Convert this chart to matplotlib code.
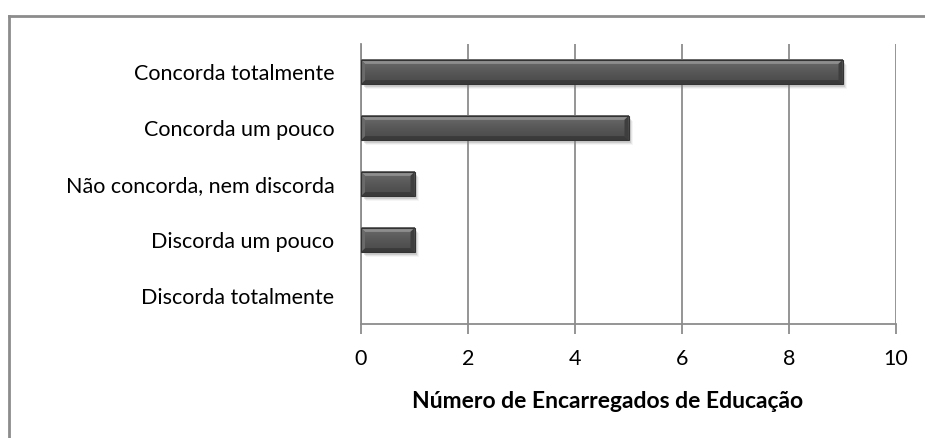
import numpy as np
import matplotlib.pyplot as plt
from matplotlib.colors import LinearSegmentedColormap
from matplotlib.patches import Polygon, Rectangle
from matplotlib.lines import Line2D

plt.rcParams['font.family'] = ['Lato', 'DejaVu Sans']

categories = ['Discorda totalmente', 'Discorda um pouco', 'Não concorda, nem discorda',
              'Concorda um pouco', 'Concorda totalmente']
counts = [0, 1, 1, 5, 9]
xticks = [0, 2, 4, 6, 8, 10]

fig = plt.figure(figsize=(9.25, 4.38), dpi=100)
ax = fig.add_axes([361 / 925, 114 / 438, 535 / 925, 280 / 438])

# frame around the whole chart (left and top edges are visible)
fig.add_artist(Line2D([9 / 925, 9 / 925], [0, 1 - 16 / 438], transform=fig.transFigure,
                      color='#8c8c8c', lw=2))
fig.add_artist(Line2D([9 / 925, 1], [1 - 16 / 438, 1 - 16 / 438], transform=fig.transFigure,
                      color='#8c8c8c', lw=2))

# vertical shading of the bar face
shade = LinearSegmentedColormap.from_list(
    'bar', ['#4a4a4a', '#505050', '#585858', '#626262', '#6c6c6c'])
grad = np.linspace(0, 1, 64).reshape(-1, 1)

h = 0.43
bx, by = 0.075, 0.07
for i, v in enumerate(counts):
    if v <= 0:
        continue
    y0, y1 = i - h / 2, i + h / 2
    # soft drop shadow
    for k, a in enumerate([0.25, 0.15, 0.08]):
        d = 0.02 * (k + 1)
        ax.add_patch(Rectangle((0.03 + d, y0 - 0.03 - d), v, h, facecolor='#888888',
                               edgecolor='none', alpha=a, zorder=2))
    ax.add_patch(Rectangle((0, y0), v, h, facecolor='white', edgecolor='none', zorder=2.5))
    ax.imshow(grad, cmap=shade, aspect='auto', origin='lower',
              extent=[0, v, y0, y1], zorder=3, interpolation='bilinear')
    # bevelled edges
    ax.add_patch(Polygon([[0, y1], [v, y1], [v - bx, y1 - by], [bx, y1 - by]],
                         facecolor='#8e8e8e', edgecolor='none', zorder=4))
    ax.add_patch(Polygon([[0, y0], [v, y0], [v - bx, y0 + by], [bx, y0 + by]],
                         facecolor='#3a3a3a', edgecolor='none', zorder=4))
    ax.add_patch(Polygon([[0, y0], [bx, y0 + by], [bx, y1 - by], [0, y1]],
                         facecolor='#6a6a6a', edgecolor='none', zorder=4))
    ax.add_patch(Polygon([[v, y0], [v - bx, y0 + by], [v - bx, y1 - by], [v, y1]],
                         facecolor='#3e3e3e', edgecolor='none', zorder=4))
    ax.add_patch(Rectangle((0, y0), v, h, facecolor='none', edgecolor='#333333',
                           lw=0.8, zorder=5))

ax.set_xlim(0, 10)
ax.set_ylim(-0.5, len(categories) - 0.5)
ax.set_xticks(xticks)
ax.set_yticks(range(len(categories)))
ax.set_yticklabels(categories)
ax.grid(axis='x', color='#8c8c8c', lw=1.3, zorder=1)
ax.set_axisbelow(True)
for s in ['top', 'right']:
    ax.spines[s].set_visible(False)
for s in ['left', 'bottom']:
    ax.spines[s].set_color('#8c8c8c')
    ax.spines[s].set_linewidth(1.3)
ax.tick_params(axis='x', length=7, width=1.3, color='#8c8c8c', labelsize=15.5, pad=11)
ax.tick_params(axis='y', length=0, labelsize=15.5, pad=19)

fig.text(608 / 925, 1 - 402 / 438, 'Número de Encarregados de Educação',
         ha='center', va='center', fontsize=16.5, fontweight='bold')

fig.savefig('out.png', dpi=100)
